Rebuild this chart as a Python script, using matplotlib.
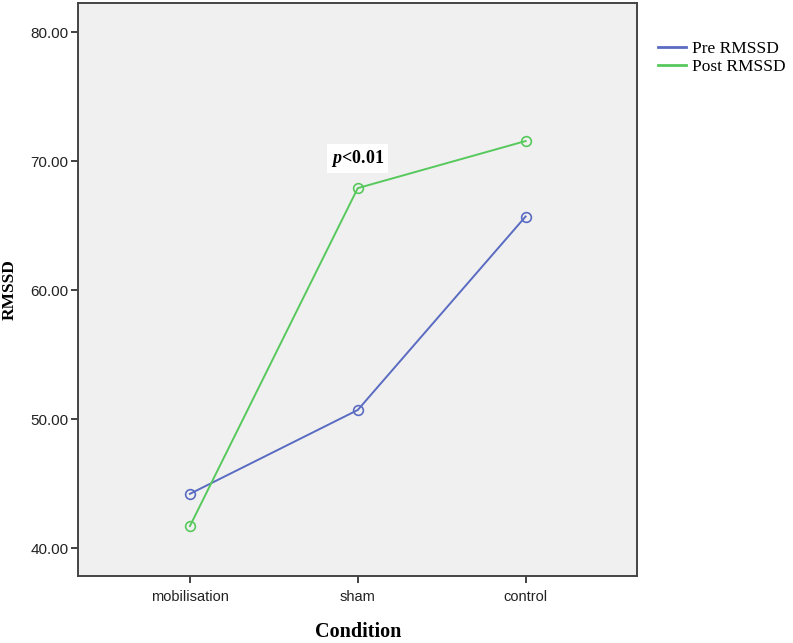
import matplotlib.pyplot as plt
from matplotlib.lines import Line2D

plt.rcParams['mathtext.fontset'] = 'custom'
plt.rcParams['mathtext.bfit'] = 'Liberation Serif:italic:bold'
plt.rcParams['mathtext.rm'] = 'Liberation Serif'

# dados
conditions = ['mobilisation', 'sham', 'control']
pre_rmssd = [44.2, 50.7, 65.7]
post_rmssd = [41.7, 67.9, 71.55]

blue = '#5a6bc2'
green = '#57c95c'

fig = plt.figure(figsize=(7.93, 6.43), dpi=100)
ax = fig.add_axes([0.0984, 0.1042, 0.7055, 0.8911])
ax.set_facecolor('#f0f0f0')

x = range(len(conditions))
ax.plot(x, pre_rmssd, color=blue, lw=1.4, marker='o', ms=7, mfc='none', mec=blue, mew=1.2)
ax.plot(x, post_rmssd, color=green, lw=1.4, marker='o', ms=7, mfc='none', mec=green, mew=1.2)

ax.set_xlim(-2 / 3, 2 + 2 / 3)
ax.set_ylim(37.83, 82.25)
ax.set_xticks(list(x))
ax.set_xticklabels(conditions, fontfamily='Liberation Sans', fontsize=10.5, color='#222222')
ax.set_yticks([40, 50, 60, 70, 80])
ax.set_yticklabels(['%.2f' % v for v in [40, 50, 60, 70, 80]], fontfamily='Liberation Sans', fontsize=11, color='#222222')
ax.tick_params(direction='out', length=5, width=1.3, color='#333333', pad=2)
ax.tick_params(axis='x', pad=5)

for s in ax.spines.values():
    s.set_color('#444444')
    s.set_linewidth(1.4)

ax.set_ylabel('RMSSD', fontfamily='Liberation Serif', fontweight='bold', fontsize=12.5, labelpad=9)
ax.set_xlabel('Condition', fontfamily='Liberation Serif', fontweight='bold', fontsize=14.5, labelpad=13)

ax.text(1, 70.2, r'$\mathbfit{p}$<0.01', ha='center', va='center',
        fontfamily='Liberation Serif', fontweight='bold', fontsize=13,
        bbox=dict(facecolor='white', edgecolor='none', pad=3))

handles = [Line2D([], [], color=blue, lw=2), Line2D([], [], color=green, lw=2)]
fig.legend(handles, ['Pre RMSSD', 'Post RMSSD'], loc='upper left',
           bbox_to_anchor=(0.81, 0.96), frameon=False, handlelength=1.6,
           handletextpad=0.35, labelspacing=0.1,
           prop={'family': 'Liberation Serif', 'size': 12.5})

fig.savefig('out.png', dpi=100)
